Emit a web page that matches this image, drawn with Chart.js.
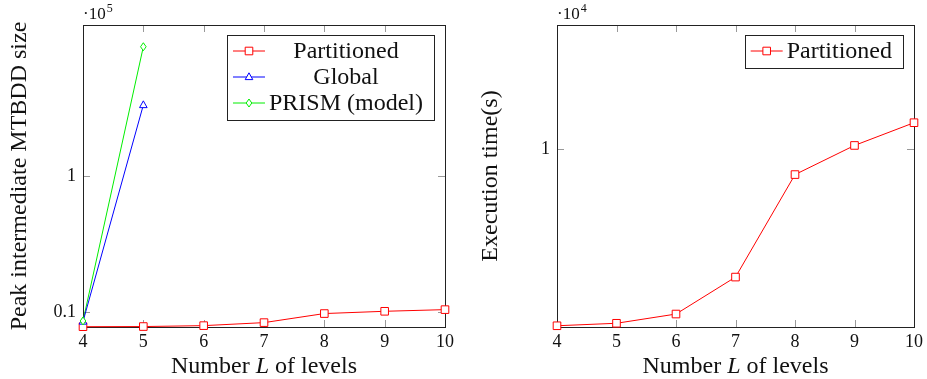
<!DOCTYPE html>
<html>
<head>
<meta charset="utf-8">
<script src="https://cdn.jsdelivr.net/npm/chart.js@4/dist/chart.umd.min.js"></script>
<style>
  html, body { margin: 0; padding: 0; background: #fff; }
  #wrap { position: relative; width: 927px; height: 379px; }
  canvas { position: absolute; top: 0; }
</style>
</head>
<body>
<div id="wrap">
  <canvas id="peak" width="463" height="379" style="left:0"></canvas>
  <canvas id="time" width="464" height="379" style="left:463px"></canvas>
</div>
<script>
// values (y in units of the axis multiplier)
const levels = [4, 5, 6, 7, 8, 9, 10];
const peakPartitioned = [0.002, 0.003, 0.009, 0.029, 0.089, 0.104, 0.115];
const globalLevels = [4, 5];
const peakGlobal = [0.036, 1.47];
const peakPrism = [0.04, 1.856];
const timePartitioned = [0.007, 0.021, 0.073, 0.281, 0.858, 1.022, 1.15];
const peakTicks = [0.1, 1];
const timeTicks = [1];

const SERIF = "'Liberation Serif', 'Times New Roman', serif";
const pts = (xs, ys) => xs.map((x, i) => ({ x, y: ys[i] }));

function marker(ctx, style, x, y, color) {
  ctx.save();
  ctx.strokeStyle = color; ctx.fillStyle = '#fff'; ctx.lineWidth = 1;
  ctx.beginPath();
  if (style === 'rect') {
    ctx.rect(x - 3.8, y - 3.8, 7.6, 7.6);
  } else if (style === 'triangle') {
    ctx.moveTo(x, y - 4.2); ctx.lineTo(x + 3.8, y + 2.6); ctx.lineTo(x - 3.8, y + 2.6); ctx.closePath();
  } else {
    ctx.moveTo(x, y - 4); ctx.lineTo(x + 2.8, y); ctx.lineTo(x, y + 4); ctx.lineTo(x - 2.8, y); ctx.closePath();
  }
  ctx.fill(); ctx.stroke();
  ctx.restore();
}

// frame, inner ticks, titles, multiplier and boxed legend (pgfplots look)
const deco = {
  id: 'deco',
  beforeDatasetsDraw(chart, args, o) {
    const { ctx, chartArea: a, scales } = chart;
    ctx.save();
    ctx.strokeStyle = '#999'; ctx.lineWidth = 1;
    scales.x.ticks.forEach(t => {
      const px = Math.round(scales.x.getPixelForValue(t.value)) + 0.5;
      ctx.beginPath();
      ctx.moveTo(px, a.bottom); ctx.lineTo(px, a.bottom - 7);
      ctx.moveTo(px, a.top); ctx.lineTo(px, a.top + 7);
      ctx.stroke();
    });
    scales.y.ticks.forEach(t => {
      const py = Math.round(scales.y.getPixelForValue(t.value)) + 0.5;
      ctx.beginPath();
      ctx.moveTo(a.left, py); ctx.lineTo(a.left + 7, py);
      ctx.moveTo(a.right, py); ctx.lineTo(a.right - 7, py);
      ctx.stroke();
    });
    ctx.strokeStyle = '#222';
    ctx.strokeRect(Math.round(a.left) + 0.5, Math.round(a.top) + 0.5,
      Math.round(a.right - a.left), Math.round(a.bottom - a.top));
    ctx.restore();
  },
  afterDraw(chart, args, o) {
    const { ctx, chartArea: a } = chart;
    ctx.save();
    ctx.fillStyle = '#111';
    // x title with italic L
    const parts = [['Number ', ''], ['L', 'italic '], [' of levels', '']];
    let w = 0;
    parts.forEach(p => { ctx.font = p[1] + '24px ' + SERIF; w += ctx.measureText(p[0]).width; });
    let x = (a.left + a.right) / 2 - w / 2;
    ctx.textBaseline = 'middle'; ctx.textAlign = 'left';
    parts.forEach(p => { ctx.font = p[1] + '24px ' + SERIF; ctx.fillText(p[0], x, 367); x += ctx.measureText(p[0]).width; });
    // y title
    ctx.save();
    ctx.translate(o.yTitleX, (a.top + a.bottom) / 2);
    ctx.rotate(-Math.PI / 2);
    ctx.textAlign = 'center';
    ctx.font = '24px ' + SERIF;
    ctx.fillText(o.yTitle, 0, 0);
    ctx.restore();
    // multiplier
    ctx.textBaseline = 'alphabetic';
    ctx.font = '17px ' + SERIF;
    ctx.fillText('\u00b710', a.left, 19);
    const mw = ctx.measureText('\u00b710').width;
    ctx.font = '12px ' + SERIF;
    ctx.fillText(o.exp, a.left + mw + 1, 12);
    // legend
    const sets = chart.data.datasets;
    ctx.font = '24px ' + SERIF;
    const tw = Math.max(...sets.map(d => ctx.measureText(d.label).width));
    const bw = 6 + 32 + 4 + tw + 11, bh = sets.length * 26 + 7;
    const bx = a.right - 11 - bw, by = a.top + 10;
    ctx.fillStyle = '#fff';
    ctx.fillRect(bx, by, bw, bh);
    ctx.strokeStyle = '#222'; ctx.lineWidth = 1;
    ctx.strokeRect(Math.round(bx) + 0.5, Math.round(by) + 0.5, Math.round(bw), Math.round(bh));
    sets.forEach((d, i) => {
      const cy = by + 16 + i * 26;
      ctx.strokeStyle = d.borderColor;
      ctx.beginPath(); ctx.moveTo(bx + 6, cy); ctx.lineTo(bx + 38, cy); ctx.stroke();
      marker(ctx, d.pointStyle, bx + 22, cy, d.borderColor);
      ctx.fillStyle = '#111'; ctx.textAlign = 'center'; ctx.textBaseline = 'middle';
      ctx.fillText(d.label, bx + 42 + tw / 2, cy + 1);
    });
    ctx.restore();
  }
};

// draw the data markers with our own marker shapes so they match the legend
const marks = {
  id: 'marks',
  afterDatasetsDraw(chart) {
    chart.data.datasets.forEach((d, i) => {
      chart.getDatasetMeta(i).data.forEach(p => marker(chart.ctx, d.pointStyle, p.x, p.y, d.borderColor));
    });
  }
};

function makeChart(id, datasets, yMax, yTicks, yWidth, rightPad, yTitle, yTitleX, exp) {
  return new Chart(document.getElementById(id), {
    type: 'line',
    data: { datasets },
    options: {
      responsive: false,
      animation: false,
      layout: { padding: { top: 25, right: rightPad, left: 0, bottom: 0 } },
      plugins: { legend: { display: false }, tooltip: { enabled: false }, deco: { yTitle, yTitleX, exp } },
      elements: { point: { radius: 0 }, line: { borderWidth: 1, tension: 0 } },
      scales: {
        x: {
          type: 'linear', min: 4, max: 10,
          afterBuildTicks: s => { s.ticks = levels.map(v => ({ value: v })); },
          afterFit: s => { s.height = 52; },
          grid: { display: false, drawTicks: false },
          border: { display: false },
          ticks: { padding: 4, color: '#111', font: { family: SERIF, size: 18 } }
        },
        y: {
          type: 'linear', min: 0, max: yMax,
          afterBuildTicks: s => { s.ticks = yTicks.map(v => ({ value: v })); },
          afterFit: s => { s.width = yWidth; },
          grid: { display: false, drawTicks: false },
          border: { display: false },
          ticks: { padding: 7, color: '#111', font: { family: SERIF, size: 18 }, callback: v => String(v) }
        }
      }
    },
    plugins: [deco, marks]
  });
}

makeChart('peak', [
  { label: 'Partitioned', data: pts(levels, peakPartitioned), borderColor: '#ff0000', pointStyle: 'rect', clip: false },
  { label: 'Global', data: pts(globalLevels, peakGlobal), borderColor: '#0000ff', pointStyle: 'triangle', clip: false },
  { label: 'PRISM (model)', data: pts(globalLevels, peakPrism), borderColor: '#00ee00', pointStyle: 'diamond', clip: false }
], 2, peakTicks, 83, 18, 'Peak intermediate MTBDD size', 20, '5');

makeChart('time', [
  { label: 'Partitioned', data: pts(levels, timePartitioned), borderColor: '#ff0000', pointStyle: 'rect', clip: false }
], 1.7, timeTicks, 94, 8, 'Execution time(s)', 28, '4');
</script>
</body>
</html>
